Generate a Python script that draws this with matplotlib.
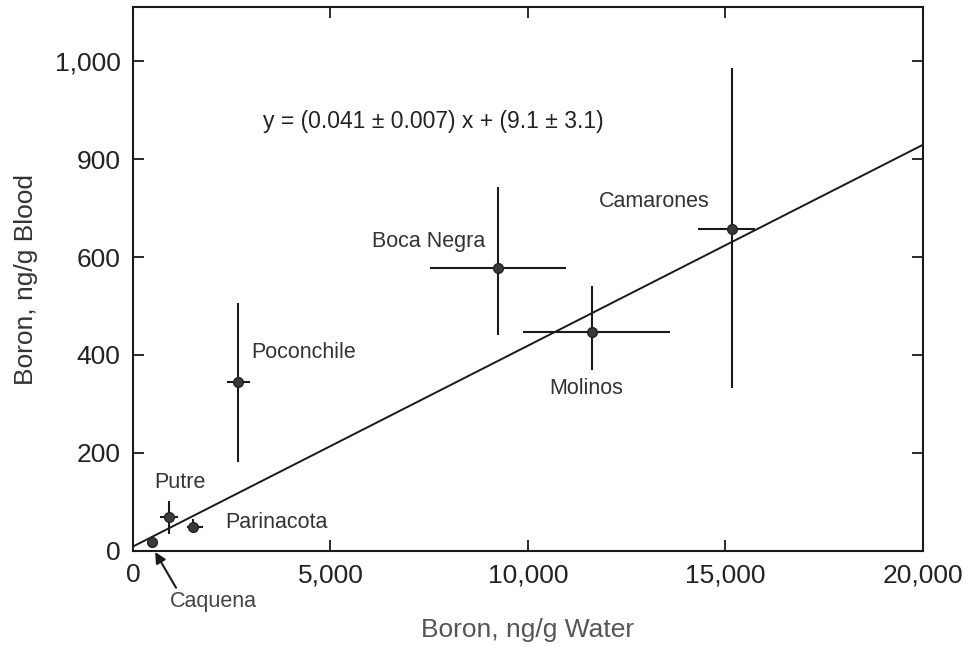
import matplotlib
matplotlib.use("Agg")
import matplotlib.pyplot as plt

plt.rcParams['font.family'] = ['Liberation Sans', 'DejaVu Sans']

sites = ["Caquena", "Putre", "Parinacota", "Poconchile", "Boca Negra", "Molinos", "Camarones"]
water = [480, 910, 1520, 2660, 9240, 11620, 15160]
blood = [18, 69, 49, 345, 578, 447, 657]
water_lo = [480, 680, 1370, 2380, 7520, 9870, 14300]
water_hi = [480, 1140, 1770, 2960, 10960, 13590, 15750]
blood_lo = [18, 35, 37, 182, 441, 369, 333]
blood_hi = [18, 102, 65, 506, 743, 541, 986]

slope = 0.041
intercept = 9.1
fit_x = [0, 20000]

xticks = [0, 5000, 10000, 15000, 20000]
xticklabels = ["0", "5,000", "10,000", "15,000", "20,000"]
yticks = [0, 200, 400, 600, 800, 1000]
yticklabels = ["0", "200", "400", "600", "900", "1,000"]

equation = "y = (0.041 \u00b1 0.007) x + (9.1 \u00b1 3.1)"

fig = plt.figure(figsize=(9.68, 6.47), dpi=100)
ax = fig.add_axes([0.1374, 0.1484, 0.8161, 0.8406])

fit_y = [slope * v + intercept for v in fit_x]
ax.plot(fit_x, fit_y, color='#1a1a1a', lw=1.4, zorder=2)

xerr = [[w - lo for w, lo in zip(water, water_lo)], [hi - w for w, hi in zip(water, water_hi)]]
yerr = [[b - lo for b, lo in zip(blood, blood_lo)], [hi - b for b, hi in zip(blood, blood_hi)]]
ax.errorbar(water, blood, xerr=xerr, yerr=yerr, fmt='o', ms=7, mfc='#3a3a3a', mec='#222222',
            ecolor='#1a1a1a', elinewidth=1.5, capsize=0, zorder=3)

ax.set_xlim(0, 20000)
ax.set_ylim(0, 1110)
ax.set_xticks(xticks)
ax.set_xticklabels(xticklabels)
ax.set_yticks(yticks)
ax.set_yticklabels(yticklabels)
ax.tick_params(direction='in', length=8, width=1.3, top=True, right=True,
               labelsize=19, pad=9, colors='#1a1a1a', labelcolor='#222222')
for s in ax.spines.values():
    s.set_linewidth(1.5)
    s.set_color('#1a1a1a')

ax.set_xlabel("Boron, ng/g Water", fontsize=19, color='#555555', labelpad=22)
ax.set_ylabel("Boron, ng/g Blood", fontsize=19, color='#333333', labelpad=12)

ax.text(3290, 876, equation, fontsize=16.5, color='#222222', va='center', ha='left')

label_pos = {
    "Putre": (530, 139),
    "Parinacota": (2330, 59),
    "Poconchile": (2990, 406),
    "Boca Negra": (6050, 631),
    "Molinos": (10530, 331),
    "Camarones": (11800, 714),
}
for name, (lx, ly) in label_pos.items():
    ax.text(lx, ly, name, fontsize=15.5, color='#333333', va='center', ha='left')

ci = sites.index("Caquena")
ax.text(940, -104, "Caquena", fontsize=15.5, color='#444444', va='center', ha='left', clip_on=False)
ax.annotate("", xy=(water[ci] + 80, blood[ci] - 20), xytext=(1090, -75),
            annotation_clip=False,
            arrowprops=dict(arrowstyle='-|>', color='#1a1a1a', lw=1.5, mutation_scale=16,
                            shrinkA=0, shrinkB=0))

fig.savefig("out.png", dpi=100)
